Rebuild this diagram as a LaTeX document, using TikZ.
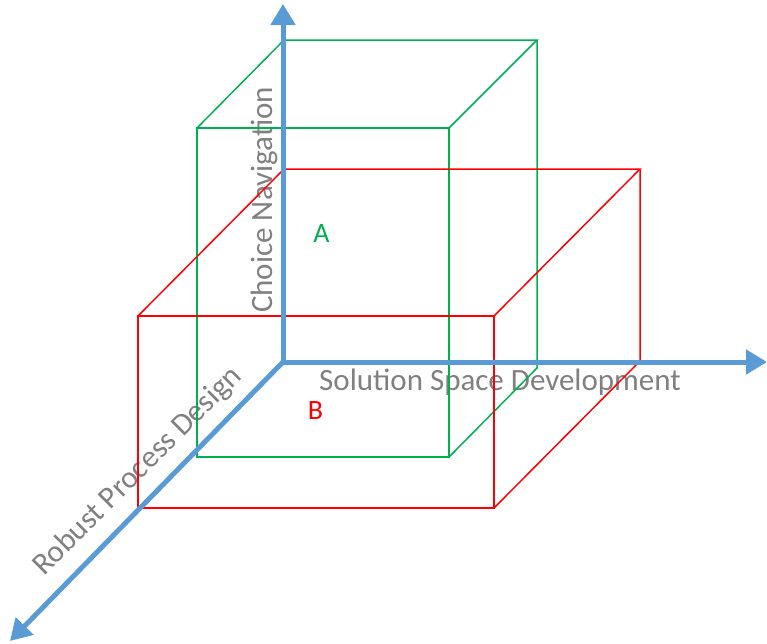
\documentclass[tikz,border=0pt]{standalone}
\usepackage{fontspec}
\setmainfont{Carlito}
\usetikzlibrary{arrows.meta}
\definecolor{axisblue}{RGB}{91,155,213}
\definecolor{cubegreen}{RGB}{0,176,80}
\definecolor{cubered}{RGB}{255,0,0}
\definecolor{labelgray}{RGB}{128,128,128}
\tikzset{
  axisline/.style={draw=axisblue, line width=5pt, -{Triangle[length=21pt,width=24pt]}},
  axislabel/.style={text=labelgray, inner sep=0pt, font=\fontsize{31}{36}\selectfont},
  boxlabel/.style={inner sep=0pt, font=\fontsize{28}{33}\selectfont},
  greenedge/.style={draw=cubegreen, line width=1.5pt, line join=miter},
  rededge/.style={draw=cubered, line width=1.5pt, line join=miter}
}
\begin{document}
\begin{tikzpicture}[x=1pt,y=-1pt]
\useasboundingbox (0,0) rectangle (767,643);
% labels
\node[axislabel, rotate=90, anchor=base west] (lc) at (272,313) {Choice Navigation};
\node[axislabel, anchor=base west] (ls) at (319,390) {Solution Space Development};
\node[axislabel, rotate=45, anchor=base west] (lr) at (44,577) {Robust Process Design};
\node[boxlabel, text=cubegreen] (la) at (321.5,234) {A};
\node[boxlabel, text=cubered] (lb) at (315.5,411) {B};
% green cube (front face + visible top and right faces)
\draw[greenedge] (197,128) rectangle (449,457);
\draw[greenedge] (197,128) -- (284,40) -- (537,40) -- (449,128);
\draw[greenedge] (537,40) -- (537,368) -- (449,457);
% red cube
\draw[rededge] (138,316) rectangle (494,508);
\draw[rededge] (138,316) -- (284,169) -- (640,169) -- (494,316);
\draw[rededge] (640,169) -- (640,361) -- (494,508);
% axes
\coordinate (o) at (283,362);
\coordinate (up) at (283,4);
\coordinate (right) at (767,362);
\coordinate (diag) at (10,641);
\draw[axisline] (o) -- (up);
\draw[axisline] (o) -- (right);
\draw[axisline] (o) -- (diag);
\end{tikzpicture}
\end{document}
